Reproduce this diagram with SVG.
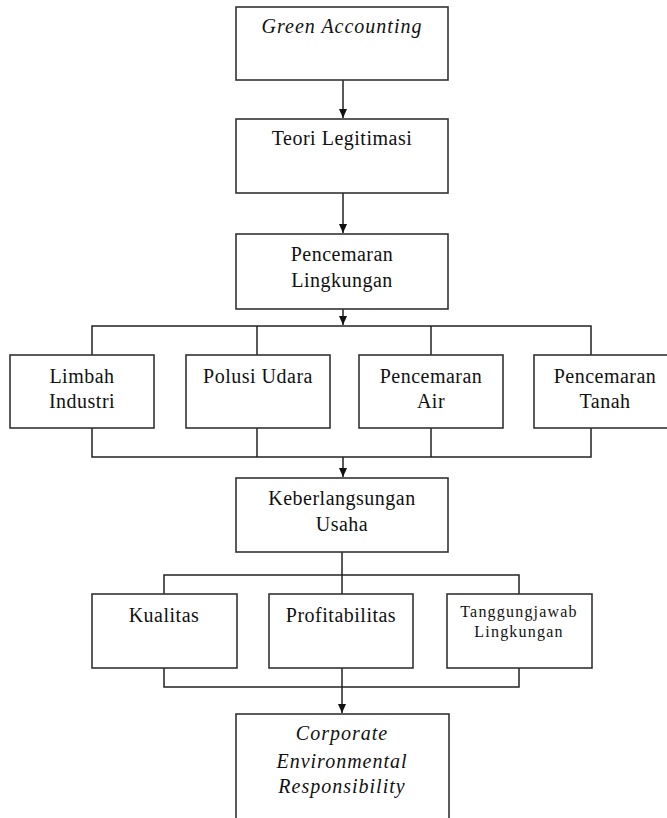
<svg xmlns="http://www.w3.org/2000/svg" width="667" height="818" viewBox="0 0 667 818">
<style>
.box{fill:#fff;stroke:#333;stroke-width:1.6}
.ln{fill:none;stroke:#222;stroke-width:1.5}
text{font-family:"Liberation Serif","DejaVu Serif",serif;font-size:20px;letter-spacing:0.5px;fill:#111;text-anchor:middle}
.it{font-style:italic;letter-spacing:1px}
.sm{font-size:16px;letter-spacing:1.2px}
</style>
<defs>
<marker id="ah" markerWidth="10" markerHeight="10" refX="9" refY="5" orient="auto" markerUnits="userSpaceOnUse">
<path d="M0,1 L9,5 L0,9 Z" fill="#111"/>
</marker>
</defs>
<rect width="667" height="818" fill="#fff"/>
<g id="connectors">
<line class="ln" x1="343" y1="80" x2="343" y2="118" marker-end="url(#ah)"/>
<line class="ln" x1="343" y1="193" x2="343" y2="233" marker-end="url(#ah)"/>
<line class="ln" x1="343" y1="309" x2="343" y2="325" marker-end="url(#ah)"/>
<polyline class="ln" points="92,355 92,326 591,326 591,355"/>
<line class="ln" x1="257" y1="326" x2="257" y2="355"/>
<line class="ln" x1="431" y1="326" x2="431" y2="355"/>
<polyline class="ln" points="92,428 92,457 591,457 591,428"/>
<line class="ln" x1="257" y1="428" x2="257" y2="457"/>
<line class="ln" x1="431" y1="428" x2="431" y2="457"/>
<line class="ln" x1="343" y1="457" x2="343" y2="477" marker-end="url(#ah)"/>
<line class="ln" x1="342" y1="552" x2="342" y2="594"/>
<polyline class="ln" points="164,594 164,575 519,575 519,594"/>
<polyline class="ln" points="164,668 164,687 519,687 519,668"/>
<line class="ln" x1="342" y1="668" x2="342" y2="713" marker-end="url(#ah)"/>
</g>
<g id="n1"><rect class="box" x="236" y="7" width="212" height="73"/><text class="it" x="342" y="33">Green Accounting</text></g>
<g id="n2"><rect class="box" x="236" y="119" width="212" height="74"/><text x="342" y="145">Teori Legitimasi</text></g>
<g id="n3"><rect class="box" x="236" y="234" width="212" height="75"/><text x="342" y="261">Pencemaran</text><text x="342" y="287">Lingkungan</text></g>
<g id="n4"><rect class="box" x="10" y="355" width="144" height="73"/><text x="82" y="383">Limbah</text><text x="82" y="408">Industri</text></g>
<g id="n5"><rect class="box" x="186" y="355" width="144" height="73"/><text x="258" y="383">Polusi Udara</text></g>
<g id="n6"><rect class="box" x="359" y="355" width="144" height="73"/><text x="431" y="383">Pencemaran</text><text x="431" y="408">Air</text></g>
<g id="n7"><rect class="box" x="534" y="355" width="144" height="73"/><text x="605" y="383">Pencemaran</text><text x="605" y="408">Tanah</text></g>
<g id="n8"><rect class="box" x="236" y="478" width="212" height="74"/><text x="342" y="505">Keberlangsungan</text><text x="342" y="531">Usaha</text></g>
<g id="n9"><rect class="box" x="92" y="594" width="145" height="74"/><text x="164" y="622">Kualitas</text></g>
<g id="n10"><rect class="box" x="269" y="594" width="144" height="74"/><text x="341" y="622">Profitabilitas</text></g>
<g id="n11"><rect class="box" x="447" y="594" width="145" height="74"/><text class="sm" x="519" y="617">Tanggungjawab</text><text class="sm" x="519" y="637">Lingkungan</text></g>
<g id="n12"><rect class="box" x="236" y="714" width="213" height="120"/><text class="it" x="342" y="740">Corporate</text><text class="it" x="342" y="768">Environmental</text><text class="it" x="342" y="793">Responsibility</text></g>
</svg>
